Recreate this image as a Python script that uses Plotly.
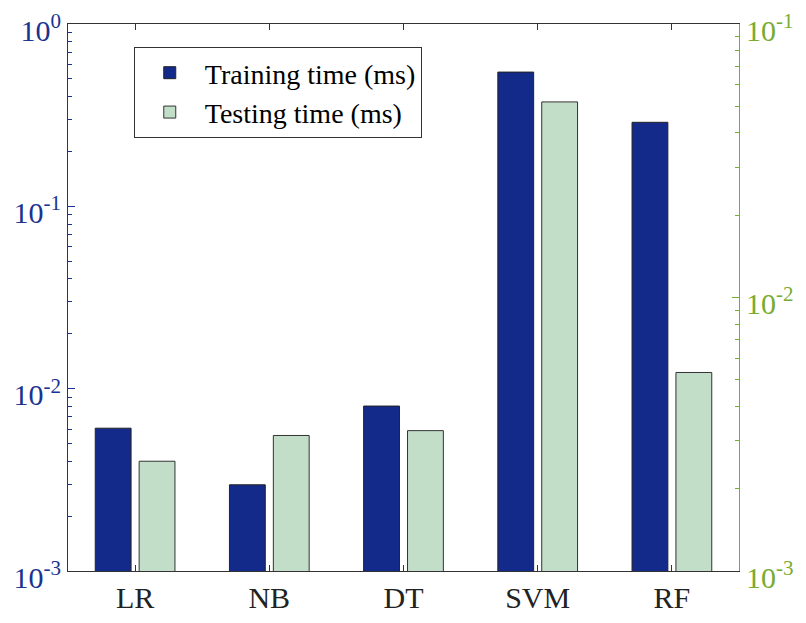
import plotly.graph_objects as go

categories = ["LR", "NB", "DT", "SVM", "RF"]
training_ms = [0.00607, 0.00297, 0.00803, 0.545, 0.289]
testing_ms = [0.00252, 0.00313, 0.00326, 0.0519, 0.00532]

left_tickvals = [1e-3, 1e-2, 1e-1, 1]
left_ticktext = ["10<sup>-3</sup>", "10<sup>-2</sup>", "10<sup>-1</sup>", "10<sup>0</sup>"]
right_tickvals = [1e-3, 1e-2, 1e-1]
right_ticktext = ["10<sup>-3</sup>", "10<sup>-2</sup>", "10<sup>-1</sup>"]

BLUE = "#142a8a"
GREEN_BAR = "#c2dec8"
AX_BLUE = "#1a3390"
AX_GREEN = "#77ac30"
FONT = "Liberation Serif, Times New Roman, serif"

fig = go.Figure()
fig.add_trace(go.Bar(
    x=categories, y=training_ms, name="Training time (ms)",
    marker=dict(color=BLUE, line=dict(color="#222222", width=1)),
    width=0.267, offset=-0.297, yaxis="y",
))
fig.add_trace(go.Bar(
    x=categories, y=testing_ms, name="Testing time (ms)",
    marker=dict(color=GREEN_BAR, line=dict(color="#333333", width=1)),
    width=0.267, offset=0.030, yaxis="y2",
))

fig.update_layout(
    width=798, height=615,
    margin=dict(l=60, r=67, t=16, b=52),
    paper_bgcolor="white", plot_bgcolor="white",
    barmode="overlay",
    font=dict(family=FONT, color="#111111"),
    showlegend=True,
    legend=dict(
        x=0.098, y=0.958, xanchor="left", yanchor="top",
        bgcolor="white", bordercolor="#333333", borderwidth=1,
        font=dict(family=FONT, size=28, color="#000000"),
        tracegroupgap=0, itemwidth=60,
    ),
    xaxis=dict(
        type="category", range=[-0.5, 4.5], automargin=False,
        showline=True, linecolor="#333333", linewidth=1,
        mirror="ticks", ticks="inside", ticklen=6, tickcolor="#333333",
        tickfont=dict(family=FONT, size=30, color="#222222"),
        showgrid=False, zeroline=False,
    ),
    yaxis=dict(
        type="log", range=[-3, 0.0001], automargin=False, ticklabeloverflow="allow",
        ticklabelshift=6,
        tickvals=left_tickvals, ticktext=left_ticktext,
        showline=True, linecolor=AX_BLUE, linewidth=1,
        ticks="inside", ticklen=7, tickcolor=AX_BLUE,
        minor=dict(ticks="inside", ticklen=4, tickcolor=AX_BLUE, dtick="D1", showgrid=False),
        tickfont=dict(family=FONT, size=30, color=AX_BLUE),
        showgrid=False, zeroline=False,
    ),
    yaxis2=dict(
        type="log", range=[-3, -0.99993], overlaying="y", side="right", automargin=False,
        ticklabeloverflow="allow", ticklabelshift=6,
        tickvals=right_tickvals, ticktext=right_ticktext,
        showline=True, linecolor=AX_GREEN, linewidth=1,
        ticks="inside", ticklen=7, tickcolor=AX_GREEN,
        minor=dict(ticks="inside", ticklen=4, tickcolor=AX_GREEN, dtick="D1", showgrid=False),
        tickfont=dict(family=FONT, size=30, color=AX_GREEN),
        showgrid=False, zeroline=False,
    ),
)

fig.write_html("out.html")
